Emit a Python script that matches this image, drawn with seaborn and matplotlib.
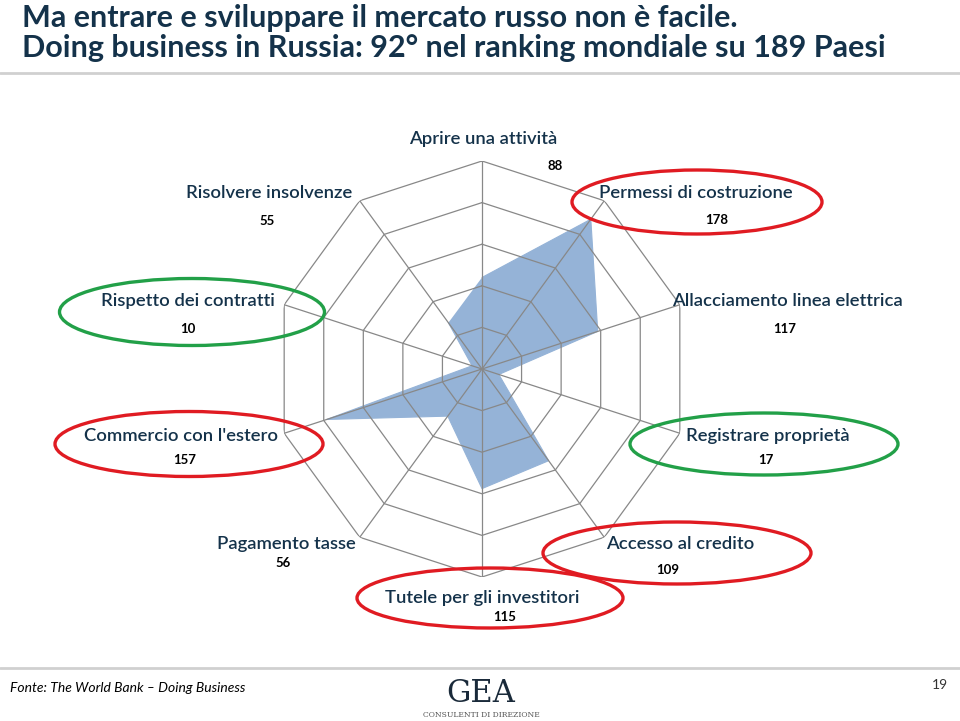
import numpy as np
import pandas as pd
import seaborn as sns
from matplotlib import pyplot as plt
from matplotlib.patches import Ellipse

sns.set_theme(style="white")
plt.rcParams['font.family'] = ['Lato', 'DejaVu Sans']

# Dati: Doing Business, posizione della Russia per indicatore
categorie = ["Aprire una attività", "Permessi di costruzione", "Allacciamento linea elettrica",
             "Registrare proprietà", "Accesso al credito", "Tutele per gli investitori",
             "Pagamento tasse", "Commercio con l'estero", "Rispetto dei contratti",
             "Risolvere insolvenze"]
ranking = [88, 178, 117, 17, 109, 115, 56, 157, 10, 55]
anelli = [40, 80, 120, 160, 200]

# evidenziazioni (rosso = critico, verde = buono)
rossi = ["Permessi di costruzione", "Commercio con l'estero", "Accesso al credito",
         "Tutele per gli investitori"]
verdi = ["Rispetto dei contratti", "Registrare proprietà"]

# posizioni in pixel: (etichetta x, y), (valore x, y), (ellisse cx, cy, w, h)
pos = {
    "Aprire una attività": ((483, 139), (555, 166), None),
    "Permessi di costruzione": ((696, 193), (717, 220), (697, 202, 250, 64)),
    "Allacciamento linea elettrica": ((787, 301), (785, 329), None),
    "Registrare proprietà": ((768, 436), (766, 460), (764, 444, 268, 62)),
    "Accesso al credito": ((680, 544), (668, 570), (677, 553, 268, 62)),
    "Tutele per gli investitori": ((482, 598), (505, 617), (490, 598, 266, 60)),
    "Pagamento tasse": ((286, 544), (283, 563), None),
    "Commercio con l'estero": ((181, 436), (185, 460), (189, 444, 268, 65)),
    "Rispetto dei contratti": ((188, 301), (188, 329), (192, 312, 265, 67)),
    "Risolvere insolvenze": ((269, 193), (267, 221), None),
}

W, H = 960, 721
fig = plt.figure(figsize=(9.6, 7.21), dpi=100)
fig.patch.set_facecolor("white")

cx, cy, R = 482, 369, 208
ax = fig.add_axes([(cx - R) / W, (H - cy - R) / H, 2 * R / W, 2 * R / H], projection="polar")
ax.set_theta_zero_location("N")
ax.set_theta_direction(-1)
ax.set_ylim(0, 200)
ax.grid(False)
ax.spines["polar"].set_visible(False)
ax.set_xticks([])
ax.set_yticks([])
ax.set_facecolor("none")

n = len(categorie)
ang = np.arange(n) * 2 * np.pi / n
df = pd.DataFrame({"theta": np.append(ang, ang[0]), "r": ranking + ranking[:1]})

ax.fill(df["theta"], df["r"], color="#95B3D7", lw=0, zorder=1)
sns.lineplot(data=df, x="theta", y="r", sort=False, ax=ax, color="#95B3D7", lw=0.8, zorder=1)

grigio = "#888888"
for r in anelli:
    ax.plot(df["theta"], [r] * (n + 1), color=grigio, lw=0.9, zorder=2)
for a in ang:
    ax.plot([a, a], [0, anelli[-1]], color=grigio, lw=0.9, zorder=2)
ax.set_xlabel("")
ax.set_ylabel("")

# livello testi
ov = fig.add_axes([0, 0, 1, 1])
ov.set_xlim(0, W)
ov.set_ylim(H, 0)
ov.axis("off")
ov.patch.set_alpha(0)

blu = "#14324A"
ov.text(22, 18, "Ma entrare e sviluppare il mercato russo non è facile.", fontsize=22,
        fontweight="bold", color=blu, va="center", ha="left")
ov.text(22, 48, "Doing business in Russia: 92° nel ranking mondiale su 189 Paesi", fontsize=22,
        fontweight="bold", color=blu, va="center", ha="left")
ov.plot([0, W], [73, 73], color="#d0d0d0", lw=2)

for cat, val in zip(categorie, ranking):
    (lx, ly), (vx, vy), ell = pos[cat]
    ov.text(lx, ly, cat, fontsize=13.3, fontweight="semibold", color=blu, ha="center", va="center")
    ov.text(vx, vy, str(val), fontsize=9.5, fontweight="bold", color="black", ha="center", va="center")
    if ell is not None:
        col = "#E01B22" if cat in rossi else "#22A048"
        ov.add_patch(Ellipse((ell[0], ell[1]), ell[2], ell[3], fill=False, edgecolor=col, lw=2.4))

ov.plot([0, W], [668, 668], color="#d0d0d0", lw=2)
ov.text(10, 688, "Fonte: The World Bank – Doing Business", fontsize=10, style="italic",
        color="black", ha="left", va="center")
ov.text(940, 685, "19", fontsize=10, color="#333333", ha="center", va="center")
ov.text(481, 694, "GEA", fontsize=22, family="DejaVu Serif", color="#1a2a3a", ha="center", va="center")
ov.text(481, 715, "CONSULENTI DI DIREZIONE", fontsize=5.5, family="DejaVu Serif", color="#555555",
        ha="center", va="center")

fig.savefig("out.png", dpi=100, facecolor="white")
